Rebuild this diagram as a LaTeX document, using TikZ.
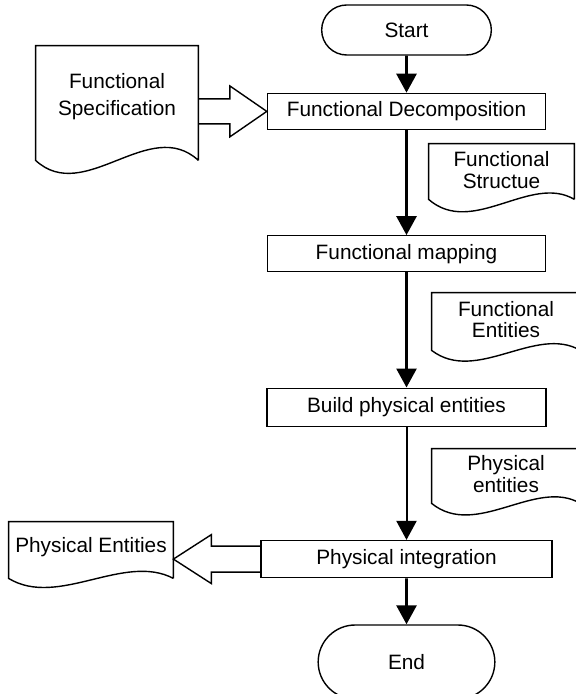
\documentclass[tikz,border=0pt]{standalone}
\usepackage{fontspec}
\setmainfont{Liberation Sans}
\usetikzlibrary{positioning,shapes.misc,arrows.meta,calc}

\tikzset{
  terminal/.style={rounded rectangle, draw, line width=0.7pt, minimum width=91.5pt},
  process/.style={rectangle, draw, line width=0.7pt, minimum width=139pt, minimum height=18pt},
  docu/.style={rectangle, align=center, inner sep=0pt, font=\fontsize{10.4}{10.6}\selectfont},
  flow/.style={-{Triangle[length=9.5pt,width=10pt]}, line width=1.4pt},
  blockarrow/.style={line width=0.7pt, line join=miter}
}

% outline of a document symbol round a node: name, drop of the sides, wave down, wave up
\newcommand{\docoutline}[4]{%
  \draw[line width=0.7pt] ($(#1.south east)+(0,#2)$) -- (#1.north east) -- (#1.north west) -- ($(#1.south west)+(0,#2)$)
    .. controls ($(#1.south west)!0.3!(#1.south east)+(0,{#2+#3})$)
       and ($(#1.south west)!0.7!(#1.south east)+(0,{#2-#4})$) .. ($(#1.south east)+(0,#2)$);}

\begin{document}
\begin{tikzpicture}[x=0.5pt, y=-0.5pt, font=\fontsize{10.4}{12.5}\selectfont]

  \useasboundingbox (0,0) rectangle (576,694);

  % Define nodes
  \node[terminal, minimum height=25pt] (start) at (406.5,30) {Start};
  \node[process, below=18.5pt of start] (decomp) {Functional Decomposition};
  \node[process, below=52.5pt of decomp] (fmap) {Functional mapping};
  \node[process, minimum width=139.5pt, minimum height=19pt, below=57.5pt of fmap] (build) {Build physical entities};
  \node[process, minimum width=145.5pt, minimum height=18.5pt, below=56.5pt of build] (integ) {Physical integration};
  \node[terminal, minimum width=95pt, minimum height=37pt, below=23pt of integ] (end) {End};

  % Documents
  \node[docu, minimum width=81pt, minimum height=51pt] (spec) at (117,97) {Functional\\[3pt]Specification};
  \node[docu, minimum width=72.5pt, minimum height=26pt] (fstruct) at (501.5,170) {Functional\\Structue};
  \node[docu, minimum width=74pt, minimum height=26.5pt] (fent) at (506,319.5) {Functional\\Entities};
  \node[docu, minimum width=74pt, minimum height=25pt] (pent) at (506,474) {Physical\\entities};
  \node[docu, minimum width=82pt, minimum height=25pt] (pout) at (91,547) {Physical Entities};

  \docoutline{spec}{12}{45}{45}
  \docoutline{fstruct}{3}{38}{26}
  \docoutline{fent}{4}{34}{26}
  \docoutline{pent}{4}{36}{26}
  \docoutline{pout}{6}{30}{26}

  % Connect the nodes
  \draw[flow] (start) -- (decomp);
  \draw[flow] (decomp) -- (fmap);
  \draw[flow] (fmap) -- (build);
  \draw[flow, line width=1pt] (build) -- (integ);
  \draw[flow] (integ) -- (end);

  % Block arrows
  \draw[blockarrow] ($(spec.east |- decomp.west)+(0,-12.5)$) -- ($(decomp.west)+(-37,-12.5)$)
    -- ($(decomp.west)+(-37,-25.5)$) -- (decomp.west) -- ($(decomp.west)+(-37,25.5)$)
    -- ($(decomp.west)+(-37,12.5)$) -- ($(spec.east |- decomp.west)+(0,12.5)$);
  \draw[blockarrow] ($(integ.west)+(0,-13)$) -- ($(pout.east |- integ.west)+(38,-13)$)
    -- ($(pout.east |- integ.west)+(38,-24.5)$) -- (pout.east |- integ.west)
    -- ($(pout.east |- integ.west)+(38,24.5)$) -- ($(pout.east |- integ.west)+(38,13)$)
    -- ($(integ.west)+(0,13)$);

\end{tikzpicture}
\end{document}
